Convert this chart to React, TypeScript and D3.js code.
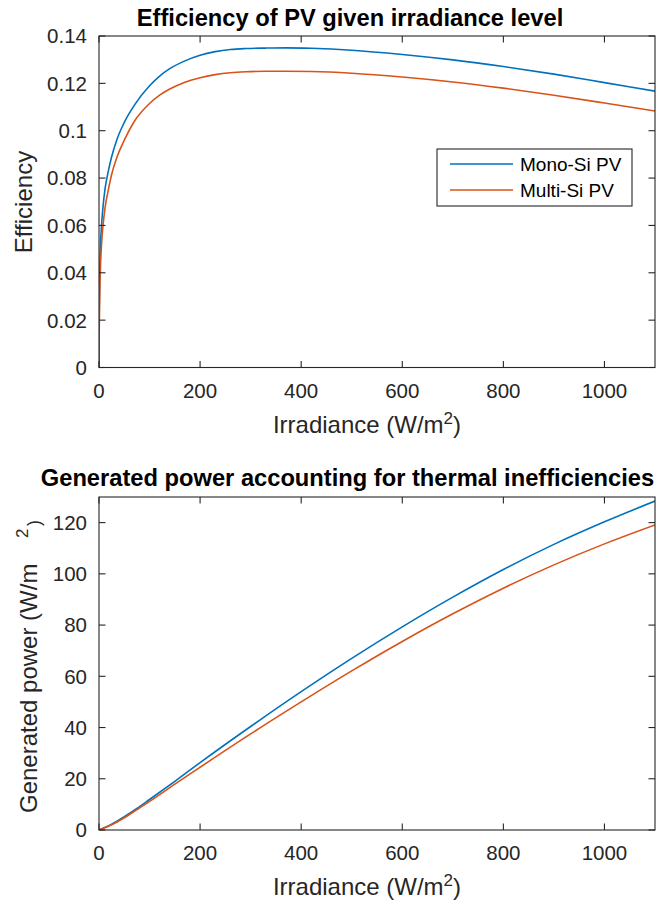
import React from "react";
import * as d3 from "d3";

// Irradiance sample points (W/m^2) for the efficiency curves
const effIrr = [0, 0.5, 1, 2, 3, 5, 8, 12, 18, 25, 35, 50, 70, 100, 120, 140, 170, 200, 230, 260, 290, 330, 370, 420, 500, 600, 700, 800, 900, 1000, 1100];
// Mono-Si PV efficiency
const effMono = [0, 0.024, 0.034, 0.045, 0.052, 0.06, 0.068, 0.0755, 0.0825, 0.089, 0.096, 0.1035, 0.1108, 0.119, 0.1231, 0.1262, 0.1295, 0.1319, 0.1334, 0.1343, 0.1347, 0.1349, 0.135, 0.1348, 0.134, 0.1322, 0.1299, 0.1271, 0.1239, 0.1203, 0.1167];
// Multi-Si PV efficiency
const effMulti = [0, 0.016, 0.025, 0.036, 0.043, 0.052, 0.06, 0.0675, 0.0745, 0.0815, 0.0885, 0.096, 0.104, 0.1115, 0.115, 0.1176, 0.1205, 0.1224, 0.1237, 0.1245, 0.1249, 0.1251, 0.1251, 0.125, 0.1243, 0.1227, 0.1206, 0.118, 0.115, 0.1117, 0.1083];

// Irradiance sample points for generated power
const powIrr = [0, 25, 50, 75, 100, 150, 200, 300, 400, 500, 600, 700, 800, 900, 1000, 1100];
const powMono = [0, 2.23, 5.18, 8.4, 11.9, 19.0, 26.3, 40.4, 54.0, 67.0, 79.3, 90.9, 101.7, 111.5, 120.3, 128.4];
const powMulti = [0, 2.04, 4.8, 7.95, 11.15, 17.9, 24.5, 37.5, 50.0, 62.1, 73.6, 84.4, 94.4, 103.5, 111.7, 119.1];

const xTicks = [0, 200, 400, 600, 800, 1000];
const effTicks = [0, 0.02, 0.04, 0.06, 0.08, 0.1, 0.12, 0.14];
const powTicks = [0, 20, 40, 60, 80, 100, 120];

const seriesNames = ["Mono-Si PV", "Multi-Si PV"];
const colors = ["#0072BD", "#D95319"];

const FONT = "'Liberation Sans', Arial, Helvetica, sans-serif";
const AX = "#262626";
const TICK = 6.5;

const X0 = 99;
const X1 = 655;

function zip(xs: number[], ys: number[]): [number, number][] {
  return xs.map((x, i) => [x, ys[i]]);
}

type PanelProps = {
  top: number;
  bottom: number;
  yDomain: [number, number];
  yTicks: number[];
  yFmt: (v: number) => string;
  series: [number, number][][];
};

function Panel({ top, bottom, yDomain, yTicks, yFmt, series }: PanelProps) {
  const x = d3.scaleLinear().domain([0, 1100]).range([X0, X1]);
  const y = d3.scaleLinear().domain(yDomain).range([bottom, top]);
  const line = d3
    .line<[number, number]>()
    .x((d) => x(d[0]))
    .y((d) => y(d[1]))
    .curve(d3.curveMonotoneX);
  return (
    <g>
      <defs>
        <clipPath id={`clip-${top}`}>
          <rect x={X0} y={top} width={X1 - X0} height={bottom - top} />
        </clipPath>
      </defs>
      <g clipPath={`url(#clip-${top})`}>
        {series.map((s, i) => (
          <path key={i} d={line(s) || ""} fill="none" stroke={colors[i]} strokeWidth={1.6} />
        ))}
      </g>
      <rect x={X0} y={top} width={X1 - X0} height={bottom - top} fill="none" stroke={AX} strokeWidth={1.1} />
      {xTicks.map((t) => (
        <g key={`x${t}`}>
          <line x1={x(t)} x2={x(t)} y1={bottom} y2={bottom - TICK} stroke={AX} strokeWidth={1.1} />
          <line x1={x(t)} x2={x(t)} y1={top} y2={top + TICK} stroke={AX} strokeWidth={1.1} />
          <text x={x(t)} y={bottom + 30} textAnchor="middle" fontSize={20.5} fill={AX} fontFamily={FONT}>
            {t}
          </text>
        </g>
      ))}
      {yTicks.map((t) => (
        <g key={`y${t}`}>
          <line x1={X0} x2={X0 + TICK} y1={y(t)} y2={y(t)} stroke={AX} strokeWidth={1.1} />
          <line x1={X1} x2={X1 - TICK} y1={y(t)} y2={y(t)} stroke={AX} strokeWidth={1.1} />
          <text x={87} y={y(t)} dy="0.36em" textAnchor="end" fontSize={20.5} fill={AX} fontFamily={FONT}>
            {yFmt(t)}
          </text>
        </g>
      ))}
      <text x={367} y={bottom + 65} textAnchor="middle" fontSize={24} fill={AX} fontFamily={FONT}>
        Irradiance (W/m
        <tspan dy={-9} fontSize={17}>2</tspan>
        <tspan dy={9}>)</tspan>
      </text>
    </g>
  );
}

export default function App() {
  const effSeries = [zip(effIrr, effMono), zip(effIrr, effMulti)];
  const powSeries = [zip(powIrr, powMono), zip(powIrr, powMulti)];
  const effFmt = (v: number) => (v === 0 ? "0" : String(+v.toFixed(2)));
  return (
    <svg width={662} height={905} style={{ position: "absolute", left: 0, top: 0, background: "#fff" }}>
      <rect x={0} y={0} width={662} height={905} fill="#fff" />
      <text x={350} y={25.5} textAnchor="middle" fontSize={23.7} fontWeight="bold" fill="#000" fontFamily={FONT}>
        Efficiency of PV given irradiance level
      </text>
      <Panel top={36} bottom={367.5} yDomain={[0, 0.14]} yTicks={effTicks} yFmt={effFmt} series={effSeries} />
      <text transform="translate(32,202) rotate(-90)" textAnchor="middle" fontSize={24} fill={AX} fontFamily={FONT}>
        Efficiency
      </text>
      {/* legend */}
      <g>
        <rect x={437} y={149} width={195} height={57} fill="#fff" stroke={AX} strokeWidth={1.1} />
        {seriesNames.map((name, i) => (
          <g key={name}>
            <line x1={450} x2={513} y1={164 + i * 26} y2={164 + i * 26} stroke={colors[i]} strokeWidth={1.6} />
            <text x={520} y={164 + i * 26} dy="0.36em" fontSize={19} fill="#000" fontFamily={FONT}>
              {name}
            </text>
          </g>
        ))}
      </g>

      <text x={347.5} y={486} textAnchor="middle" fontSize={23.7} fontWeight="bold" fill="#000" fontFamily={FONT}>
        Generated power accounting for thermal inefficiencies
      </text>
      <Panel top={497} bottom={830} yDomain={[0, 130]} yTicks={powTicks} yFmt={(v) => String(v)} series={powSeries} />
      <text transform="translate(37,813) rotate(-90)" textAnchor="start" fontSize={24} fill={AX} fontFamily={FONT}>
        Generated power (W/m
      </text>
      <text transform="translate(28,538) rotate(-90)" textAnchor="start" fontSize={17} fill={AX} fontFamily={FONT}>
        2
      </text>
      <text transform="translate(40,526) rotate(-90)" textAnchor="start" fontSize={18} fill={AX} fontFamily={FONT}>
        )
      </text>
    </svg>
  );
}
